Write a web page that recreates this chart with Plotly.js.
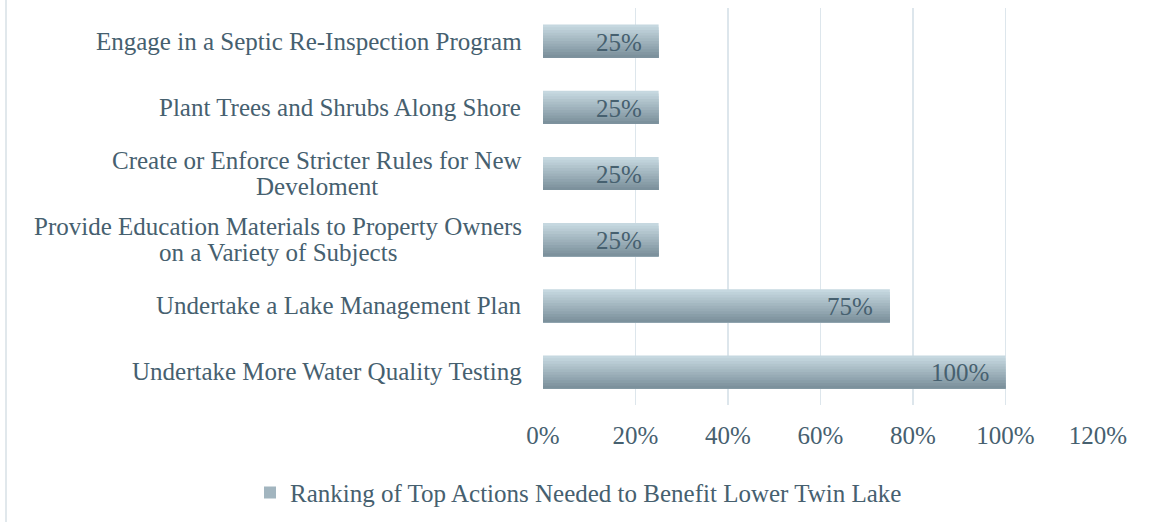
<!DOCTYPE html>
<html>
<head>
<meta charset="utf-8">
<script src="https://cdn.plot.ly/plotly-3.0.1.min.js"></script>
<style>
  html, body { margin: 0; padding: 0; background: #ffffff; }
  #wrap { position: relative; width: 1151px; height: 522px; }
  #chart { width: 1151px; height: 522px; }
  #edge { position: absolute; left: 5px; top: 0; width: 2px; height: 522px; background: #e1e8ec; }
</style>
</head>
<body>
<div id="wrap">
  <div id="chart"></div>
  <div id="edge"></div>
</div>
<script>
// Categories listed top to bottom
const categories = [
  "Engage in a Septic Re-Inspection Program",
  "Plant Trees and Shrubs Along Shore",
  "Create or Enforce Stricter Rules for New<br>Develoment",
  "Provide Education Materials to Property Owners<br>on a Variety of Subjects",
  "Undertake a Lake Management Plan",
  "Undertake More Water Quality Testing"
];
const values = [0.25, 0.25, 0.25, 0.25, 0.75, 1.00];
const valueLabels = ["25%", "25%", "25%", "25%", "75%", "100%"];
const seriesName = "Ranking of Top Actions Needed to Benefit Lower Twin Lake";
const tickVals = [0, 0.2, 0.4, 0.6, 0.8, 1.0, 1.2];
const tickText = ["0%", "20%", "40%", "60%", "80%", "100%", "120%"];

const FONT = "Liberation Serif, Times New Roman, serif";
const TEXT = "#46606f";
const FS = 25;
const LINE_H = 26.5;

// vertical gradient of the bars: stacked overlapping layers, light (full bar) to dark (bottom)
const TOP = [198, 216, 224], BOT = [124, 145, 156];
const N = 12, BAR_W = 0.5;
function mix(t) {
  const c = TOP.map((v, k) => Math.round(v + (BOT[k] - v) * t));
  return "rgb(" + c.join(",") + ")";
}
const traces = [];
for (let i = 0; i < N; i++) {
  const start = -BAR_W / 2 + i * BAR_W / N;
  traces.push({
    type: "bar", orientation: "h",
    x: values, y: categories,
    width: BAR_W / 2 - start,
    offset: start,
    marker: { color: mix(i / (N - 1)), line: { width: 0 } },
    hoverinfo: "skip", showlegend: false, name: seriesName
  });
}
// legend entry for the series
traces.push({
  type: "bar", orientation: "h", x: [null], y: [categories[0]],
  name: seriesName, marker: { color: "#a2b5bf", line: { width: 0 } },
  hoverinfo: "skip", showlegend: true
});

// measure text widths for centred multi-line category labels
const ctx = document.createElement("canvas").getContext("2d");
ctx.font = FS + "px Liberation Serif";

const annotations = [];
categories.forEach((c, i) => {
  const lines = c.split("<br>");
  const maxW = Math.max(...lines.map(s => ctx.measureText(s).width));
  lines.forEach((ln, j) => {
    annotations.push({
      xref: "paper", yref: "y", x: 0, y: c,
      xanchor: "center", yanchor: "middle",
      xshift: -21 - maxW / 2,
      yshift: ((lines.length - 1) / 2 - j) * LINE_H,
      showarrow: false, text: ln,
      font: { family: FONT, size: FS, color: TEXT }
    });
  });
  annotations.push({
    xref: "x", yref: "y", x: values[i], y: c,
    xanchor: "right", yanchor: "middle", xshift: -15, yshift: -1,
    showarrow: false, text: valueLabels[i],
    font: { family: FONT, size: FS, color: TEXT }
  });
});

const layout = {
  width: 1151, height: 522,
  margin: { l: 543, r: 53, t: 8, b: 117 },
  paper_bgcolor: "rgba(0,0,0,0)",
  plot_bgcolor: "#ffffff",
  font: { family: FONT, size: FS, color: TEXT },
  barmode: "overlay",
  xaxis: {
    range: [0, 1.2], tickvals: tickVals, ticktext: tickText,
    showgrid: true, gridcolor: "#dde6ec", gridwidth: 1.5,
    zeroline: false, showline: false, ticks: "",
    ticklabelstandoff: 13,
    tickfont: { family: FONT, size: FS, color: TEXT },
    fixedrange: true
  },
  yaxis: {
    type: "category", autorange: "reversed",
    showticklabels: false, showgrid: false, zeroline: false,
    showline: false, ticks: "", fixedrange: true
  },
  showlegend: true,
  legend: {
    orientation: "h", xref: "container", yref: "container",
    x: 250 / 1151, xanchor: "left", y: 0.056, yanchor: "middle",
    font: { family: FONT, size: FS, color: TEXT },
    itemwidth: 30
  },
  annotations: annotations
};

Plotly.newPlot("chart", traces, layout, { displayModeBar: false, staticPlot: true });
</script>
</body>
</html>
